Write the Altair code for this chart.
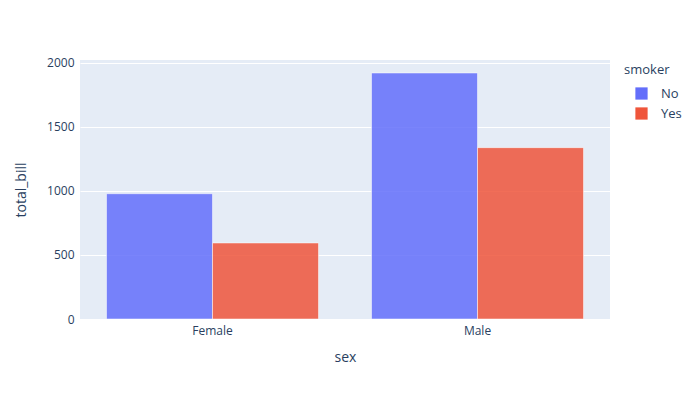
import altair as alt
import pandas as pd

sex = ["Female", "Female", "Male", "Male"]
smoker = ["No", "Yes", "No", "Yes"]
total_bill = [977.68, 593.27, 1919.75, 1337.07]

df = pd.DataFrame({"sex": sex, "smoker": smoker, "total_bill": total_bill})

font = "Open Sans"
txt = "#2a3f5f"

chart = alt.Chart(df).mark_bar(stroke="white", strokeWidth=0.5, fillOpacity=0.85).encode(
    x=alt.X("sex:N", title="sex",
            scale=alt.Scale(paddingInner=0.2, paddingOuter=0.1),
            axis=alt.Axis(labelAngle=0, domain=False, ticks=False, grid=False,
                          labelPadding=6, titlePadding=14)),
    xOffset=alt.XOffset("smoker:N", scale=alt.Scale(paddingInner=0, paddingOuter=0)),
    y=alt.Y("total_bill:Q", title="total_bill",
            scale=alt.Scale(domain=[0, 2021], nice=False),
            axis=alt.Axis(values=[0, 500, 1000, 1500, 2000], format="d",
                          domain=False, ticks=False,
                          gridColor="white", gridWidth=1, labelPadding=6, titlePadding=18)),
    color=alt.Color("smoker:N", title="smoker",
                    scale=alt.Scale(domain=["No", "Yes"], range=["#636EFA", "#EF553B"]),
                    legend=alt.Legend(orient="none", legendX=544, legendY=4,
                                      symbolType="square", symbolSize=150,
                                      symbolStrokeWidth=0, symbolOpacity=1,
                                      titleFontWeight="normal", titleFontSize=13,
                                      labelFontSize=13, rowPadding=6,
                                      titlePadding=10, labelOffset=13, symbolOffset=11)),
).properties(
    width=530, height=259,
    autosize=alt.AutoSizeParams(type="none"),
    padding={"left": 72, "top": 52, "right": 74, "bottom": 70},
).configure_view(
    fill="#E5ECF6", stroke=None
).configure_axis(
    labelFont=font, titleFont=font, labelColor=txt, titleColor=txt,
    labelFontSize=12, titleFontSize=14, titleFontWeight="normal"
).configure_legend(
    labelFont=font, titleFont=font, labelColor=txt, titleColor=txt
)

chart.save("out.html", embed_options={"renderer": "svg", "actions": False})
